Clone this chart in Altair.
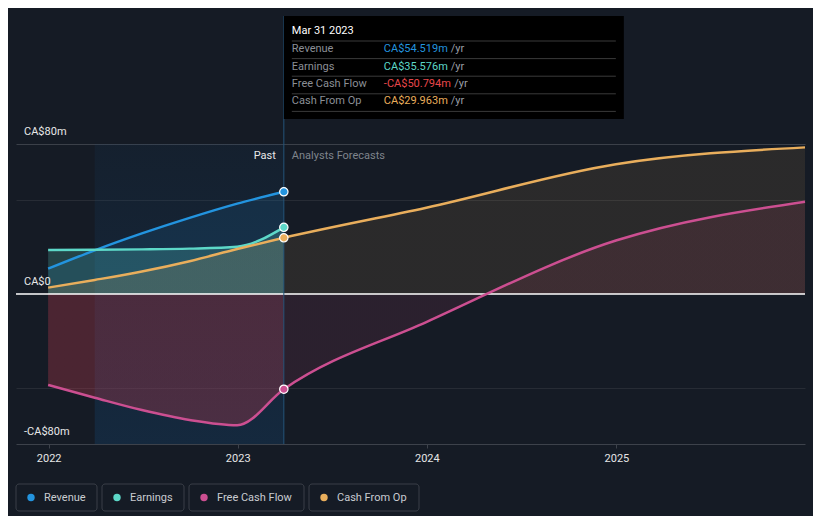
import altair as alt
import pandas as pd

# ---------------- data ----------------
past_dates = ["2021-12-31", "2022-03-31", "2022-06-30", "2022-09-30", "2022-12-31", "2023-03-31"]
revenue = [13.5, 23.3, 32.3, 40.6, 48.2, 54.519]
earnings = [23.5, 23.6, 23.8, 24.2, 25.2, 35.576]
free_cash_flow_past = [-48.5, -55.3, -61.9, -67.2, -70.0, -50.794]
cash_from_op_past = [3.4, 7.5, 12.0, 17.5, 24.0, 29.963]

forecast_dates = ["2023-12-31", "2024-12-31", "2025-12-31"]
free_cash_flow_forecast = [-15.0, 28.5, 49.2]
cash_from_op_forecast = [46.0, 69.2, 78.2]

series_names = ["Revenue", "Earnings", "Free Cash Flow", "Cash From Op"]
series_colors = ["#2394df", "#5dd8c8", "#cc4f91", "#e9ae5c"]

tooltip_date = "Mar 31 2023"
tooltip_values = ["CA$54.519m", "CA$35.576m", "-CA$50.794m", "CA$29.963m"]
tooltip_value_colors = ["#2394df", "#5dd8c8", "#e8474b", "#e9ae5c"]

y_label_values = [80, 0, -80]
y_label_texts = ["CA$80m", "CA$0", "-CA$80m"]
y_grid_values = [-50, 50, 80]
x_tick_years = [2022, 2023, 2024, 2025]

past_start = "2022-03-31"
anchor = "2023-03-31"

# ---------------- layout ----------------
W, H = 789, 300
BG = "#151b25"
FONT = "Roboto"
x_domain = ("2021-10-30", "2025-12-31")
ts = pd.Timestamp
anchor_px = (ts(anchor) - ts(x_domain[0])).days / (ts(x_domain[1]) - ts(x_domain[0])).days * W

legend_left = [0, 86, 173, 293]
legend_width = [81, 82, 115, 110]

# ---------------- tables ----------------
rows = []
for name, vals, dates in [
    ("Revenue", revenue, past_dates),
    ("Earnings", earnings, past_dates),
    ("Free Cash Flow", free_cash_flow_past + free_cash_flow_forecast, past_dates + forecast_dates),
    ("Cash From Op", cash_from_op_past + cash_from_op_forecast, past_dates + forecast_dates),
]:
    for d, v in zip(dates, vals):
        rows.append({"series": name, "date": pd.to_datetime(d), "value": v})
df = pd.DataFrame(rows)

pts = df[df["date"] == pd.to_datetime(anchor)].copy()

xscale = alt.Scale(domain=[alt.DateTime(year=2021, month=10, date=30),
                           alt.DateTime(year=2025, month=12, date=31)])
xaxis = alt.Axis(values=[alt.DateTime(year=y, month=1, date=1) for y in x_tick_years],
                 format="%Y", labelColor="#e6e6e6", labelFontSize=11, labelFont=FONT,
                 tickColor="#3d424b", domainColor="#3d424b", tickSize=4, labelPadding=4,
                 grid=False, title=None, labelFlush=False)
yscale = alt.Scale(domain=[-80, 80], nice=False, zero=False)
yaxis = alt.Axis(values=y_grid_values, grid=True,
                 gridColor={"condition": {"test": "datum.value === 80", "value": "#3b4049"},
                            "value": "#272c35"},
                 labels=False, ticks=False, domain=False, title=None)

xenc = alt.X("date:T", scale=xscale, axis=xaxis)
yenc = alt.Y("value:Q", scale=yscale, axis=yaxis)

base = alt.Chart(df)

# highlight of past year
hl_df = pd.DataFrame({"start": [pd.to_datetime(past_start)], "end": [pd.to_datetime(anchor)]})
highlight = alt.Chart(hl_df).mark_rect(
    fill=alt.Gradient(gradient="linear", x1=0, y1=0, x2=0, y2=1,
                      stops=[alt.GradientStop(color="rgba(20,70,115,0.12)", offset=0),
                             alt.GradientStop(color="rgba(20,70,115,0.32)", offset=1)])
).encode(x=alt.X("start:T", scale=xscale, axis=xaxis), x2="end:T",
         y=alt.value(0), y2=alt.value(H))

split = (ts(anchor) - ts(past_dates[0])).days / (ts(forecast_dates[-1]) - ts(past_dates[0])).days


def hgrad(c_past, c_fore):
    return alt.Gradient(gradient="linear", x1=0, y1=0, x2=1, y2=0, stops=[
        alt.GradientStop(color=c_past, offset=0),
        alt.GradientStop(color=c_past, offset=split),
        alt.GradientStop(color=c_fore, offset=split),
        alt.GradientStop(color=c_fore, offset=1),
    ])


def area(name, fill, opacity=1.0):
    return base.transform_filter(alt.datum.series == name).mark_area(
        interpolate="monotone", fill=fill, opacity=opacity
    ).encode(x=xenc, y=yenc, y2=alt.datum(0))


areas = [
    area("Revenue", "#2394df", 0.12),
    area("Earnings", "#5dd8c8", 0.22),
    area("Cash From Op", hgrad("rgba(233,174,92,0.15)", "rgba(233,174,92,0.10)")),
    area("Free Cash Flow", hgrad("rgba(200,60,80,0.30)", "rgba(200,70,110,0.12)")),
]

zero = alt.Chart(pd.DataFrame({"z": [0]})).mark_rule(color="#ffffff", strokeWidth=1.3).encode(
    y=alt.Y("z:Q", scale=yscale, axis=yaxis))

anchor_df = pd.DataFrame({"date": [pd.to_datetime(anchor)]})
anchor_rule = alt.Chart(anchor_df).mark_rule(color="#24547a", strokeWidth=1).encode(
    x=alt.X("date:T", scale=xscale, axis=xaxis), y=alt.value(-128), y2=alt.value(H))

color = alt.Color("series:N", scale=alt.Scale(domain=series_names, range=series_colors), legend=None)

lines = base.mark_line(interpolate="monotone", strokeWidth=2.5).encode(
    x=xenc, y=yenc, color=color, detail="series:N")

points = alt.Chart(pts).mark_circle(size=70, opacity=1, stroke="#ffffff", strokeWidth=1.2).encode(
    x=xenc, y=yenc, color=color)

past_lbl = alt.Chart(anchor_df).mark_text(align="right", baseline="middle", dx=-8, fontSize=11,
                                          color="#e8e8e8", font=FONT).encode(
    x=alt.X("date:T", scale=xscale, axis=xaxis), y=alt.value(12), text=alt.value("Past"))
fore_lbl = alt.Chart(anchor_df).mark_text(align="left", baseline="middle", dx=8, fontSize=11,
                                          color="#7f848c", font=FONT).encode(
    x=alt.X("date:T", scale=xscale, axis=xaxis), y=alt.value(12), text=alt.value("Analysts Forecasts"))

ylab_df = pd.DataFrame({"v": y_label_values, "t": y_label_texts})
ylabels = alt.Chart(ylab_df).mark_text(align="left", baseline="middle", dy=-12, fontSize=11,
                                       color="#e8e8e8", font=FONT).encode(
    x=alt.value(8), y=alt.Y("v:Q", scale=yscale, axis=yaxis), text="t:N")

# ---------------- tooltip ----------------
box = alt.Chart(pd.DataFrame({"a": [0]})).mark_rect(fill="#000000").encode(
    x=alt.value(anchor_px), x2=alt.value(anchor_px + 340), y=alt.value(-128), y2=alt.value(-25))


def text_w(s):
    return sum(3.3 if ch == "-" else 6.27 for ch in s)


tt = pd.DataFrame({
    "label": series_names,
    "val": tooltip_values,
    "col": tooltip_value_colors,
    "ty": [-94.7 + 17.35 * i for i in range(4)],
    "yx": [anchor_px + 100 + text_w(v) + 4.3 for v in tooltip_values],
})
seps = pd.DataFrame({"sy": [-103 + 17.6 * i for i in range(5)]})

tt_title = alt.Chart(pd.DataFrame({"t": [tooltip_date]})).mark_text(
    align="left", baseline="middle", fontSize=11, color="#ffffff", font=FONT).encode(
    x=alt.value(anchor_px + 8), y=alt.value(-113), text="t:N")
tt_seps = alt.Chart(seps).mark_rule(color="#3a3a3a", strokeWidth=1).encode(
    x=alt.value(anchor_px + 8), x2=alt.value(anchor_px + 332),
    y=alt.Y("sy:Q", scale=None, axis=None))
tt_labels = alt.Chart(tt).mark_text(align="left", baseline="middle", fontSize=11,
                                    color="#8b8f96", font=FONT).encode(
    x=alt.value(anchor_px + 8), y=alt.Y("ty:Q", scale=None, axis=None), text="label:N")
tt_vals = alt.Chart(tt).mark_text(align="left", baseline="middle", fontSize=11, font=FONT).encode(
    x=alt.value(anchor_px + 100), y=alt.Y("ty:Q", scale=None, axis=None), text="val:N",
    color=alt.Color("col:N", scale=None))
tt_yr = alt.Chart(tt).mark_text(align="left", baseline="middle", fontSize=11,
                                color="#9a9ea5", font=FONT).encode(
    x=alt.X("yx:Q", scale=None, axis=None), y=alt.Y("ty:Q", scale=None, axis=None),
    text=alt.value("/yr"))

# ---------------- legend ----------------
leg = pd.DataFrame({
    "name": series_names,
    "col": series_colors,
    "lx": legend_left,
    "lx2": [l + w for l, w in zip(legend_left, legend_width)],
    "cx": [l + 15 for l in legend_left],
    "tx": [l + 28 for l in legend_left],
})
leg_box = alt.Chart(leg).mark_rect(fill=BG, stroke="#3a3f48", strokeWidth=1, cornerRadius=3).encode(
    x=alt.X("lx:Q", scale=None, axis=None), x2="lx2:Q", y=alt.value(340), y2=alt.value(367))
leg_dot = alt.Chart(leg).mark_circle(size=55, opacity=1).encode(
    x=alt.X("cx:Q", scale=None, axis=None), y=alt.value(353.5), color=alt.Color("col:N", scale=None))
leg_txt = alt.Chart(leg).mark_text(align="left", baseline="middle", fontSize=11,
                                   color="#c9ccd1", font=FONT).encode(
    x=alt.X("tx:Q", scale=None, axis=None), y=alt.value(353.5), text="name:N")

chart = alt.layer(
    highlight, *areas, zero, anchor_rule, lines, points, past_lbl, fore_lbl, ylabels,
    box, tt_title, tt_seps, tt_labels, tt_vals, tt_yr, leg_box, leg_dot, leg_txt
).properties(
    width=W, height=H,
    padding={"left": 8, "top": 136, "right": 8, "bottom": 72},
    autosize=alt.AutoSizeParams(type="none"),
).configure(
    background=BG, font=FONT
).configure_view(stroke=None)

chart.save("out.html", embed_options={"renderer": "svg", "actions": False})
